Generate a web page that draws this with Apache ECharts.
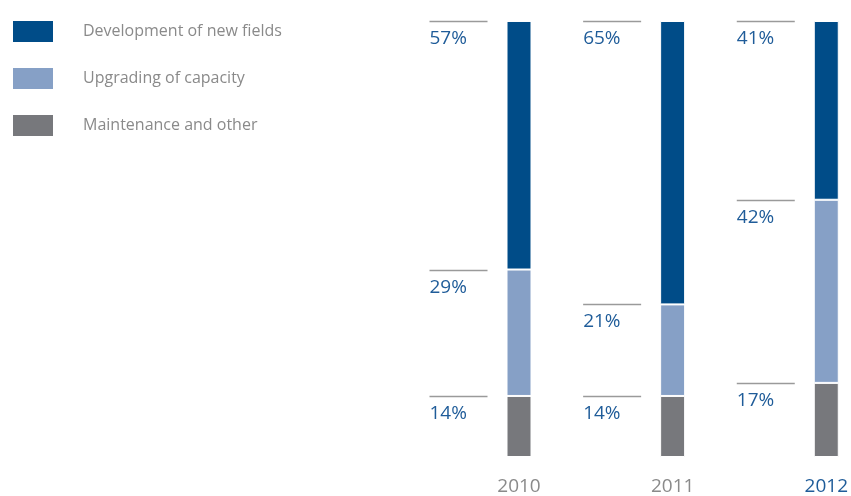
<!DOCTYPE html>
<html>
<head>
<meta charset="utf-8">
<script src="https://cdn.jsdelivr.net/npm/echarts@6/dist/echarts.min.js"></script>
<style>html,body{margin:0;padding:0;background:#fff}#c{width:851px;height:496px}</style>
</head>
<body>
<div id="c"></div>
<script>
const years = ['2010', '2011', '2012'];
const development = [57, 65, 41];
const upgrading = [29, 21, 42];
const maintenance = [14, 14, 17];
const seriesNames = ['Development of new fields', 'Upgrading of capacity', 'Maintenance and other'];
const colors = ['#004c88', '#86a0c6', '#77787c'];

// label data: [categoryIndex, top of segment (cumulative), percent]
const labelData = [];
years.forEach((y, i) => {
  labelData.push([i, maintenance[i], maintenance[i]]);
  labelData.push([i, maintenance[i] + upgrading[i], upgrading[i]]);
  labelData.push([i, maintenance[i] + upgrading[i] + development[i], development[i]]);
});

const chart = echarts.init(document.getElementById('c'), null, {renderer: 'canvas'});
const fontFam = '"Open Sans", "Noto Sans", sans-serif';
chart.setOption({
  animation: false,
  legend: {
    orient: 'vertical',
    left: 11,
    top: 19,
    padding: 0,
    itemWidth: 42,
    itemHeight: 23,
    itemGap: 22,
    icon: 'rect',
    data: seriesNames,
    selectedMode: false,
    textStyle: {color: '#8a8a8a', fontSize: 16, lineHeight: 20, fontFamily: fontFam, padding: [0, 0, 0, 24]}
  },
  grid: {left: 519, right: 22, top: 21, bottom: 38, containLabel: false},
  xAxis: {
    type: 'category',
    data: years,
    boundaryGap: false,
    axisLine: {show: false},
    axisTick: {show: false},
    axisLabel: {
      margin: 20,
      fontSize: 19,
      fontFamily: fontFam,
      color: (v) => v === '2012' ? '#1f5c99' : '#8a8a8a'
    }
  },
  yAxis: {type: 'value', min: 0, max: 100, show: false, splitLine: {show: false}},
  series: [
    {name: seriesNames[2], type: 'bar', stack: 's', data: maintenance, barWidth: 25,
     itemStyle: {color: colors[2], borderColor: '#fff', borderWidth: 1}},
    {name: seriesNames[1], type: 'bar', stack: 's', data: upgrading, barWidth: 25,
     itemStyle: {color: colors[1], borderColor: '#fff', borderWidth: 1}},
    {name: seriesNames[0], type: 'bar', stack: 's', data: development, barWidth: 25,
     itemStyle: {color: colors[0], borderColor: '#fff', borderWidth: 1}},
    {
      type: 'custom',
      data: labelData,
      z: 5,
      renderItem: function (params, api) {
        const pt = api.coord([api.value(0), api.value(1)]);
        const x = pt[0] - 89.5;
        const y = Math.round(pt[1]) + 0.5;
        return {
          type: 'group',
          children: [
            {type: 'line', shape: {x1: x, y1: y, x2: x + 58, y2: y},
             style: {stroke: '#9a9a9a', lineWidth: 1.5}},
            {type: 'text', x: x, y: y + 8,
             style: {text: api.value(2) + '%', fill: '#1f5c99', fontSize: 19, fontFamily: fontFam,
                     textAlign: 'left', textVerticalAlign: 'top'}}
          ]
        };
      }
    }
  ]
});
</script>
</body>
</html>
